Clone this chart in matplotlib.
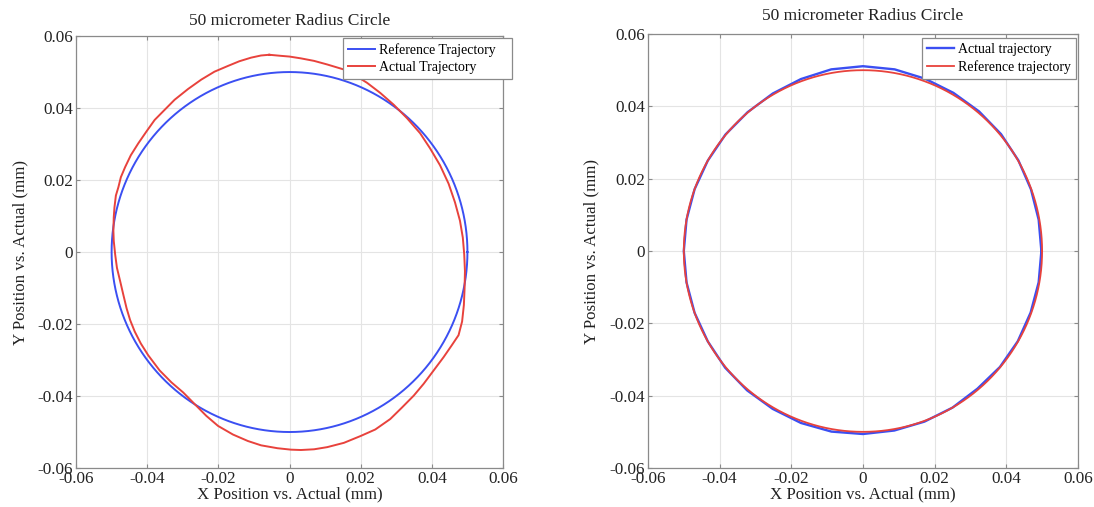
import numpy as np
import matplotlib
matplotlib.use("Agg")
import matplotlib.pyplot as plt

plt.rcParams["font.family"] = ["Liberation Serif", "DejaVu Serif"]
plt.rcParams["axes.unicode_minus"] = False

# ---- data -------------------------------------------------------------
TITLE = "50 micrometer Radius Circle"
XLABEL = "X Position vs. Actual (mm)"
YLABEL = "Y Position vs. Actual (mm)"
TICKS = [-0.06, -0.04, -0.02, 0, 0.02, 0.04, 0.06]
TICK_LABELS = ["-0.06", "-0.04", "-0.02", "0", "0.02", "0.04", "0.06"]

# commanded path: circle of 50 micrometer radius
ref_radius = 0.05

# first run: measured path (mm), clockwise from the top
actual1_x = [-0.0057, -0.0024, 0.0000, 0.0032, 0.0069, 0.0106, 0.0153, 0.0181,
             0.0218, 0.0255, 0.0293, 0.0330, 0.0367, 0.0395, 0.0423, 0.0447,
             0.0465, 0.0479, 0.0487, 0.0491, 0.0493, 0.0492, 0.0490, 0.0485,
             0.0475, 0.0456, 0.0433, 0.0405, 0.0377, 0.0349, 0.0316, 0.0283,
             0.0241, 0.0200, 0.0153, 0.0106, 0.0069, 0.0032, 0.0004, -0.0034,
             -0.0080, -0.0117, -0.0159, -0.0201, -0.0234, -0.0267, -0.0299,
             -0.0332, -0.0365, -0.0397, -0.0418, -0.0435, -0.0448, -0.0458,
             -0.0467, -0.0476, -0.0485, -0.0490, -0.0494, -0.0495, -0.0494,
             -0.0492, -0.0488, -0.0481, -0.0474, -0.0462, -0.0446, -0.0425,
             -0.0402, -0.0379, -0.0351, -0.0323, -0.0285, -0.0248, -0.0211,
             -0.0173, -0.0141, -0.0108, -0.0080, -0.0057]
actual1_y = [0.0548, 0.0545, 0.0543, 0.0538, 0.0531, 0.0521, 0.0507, 0.0493,
             0.0470, 0.0442, 0.0409, 0.0372, 0.0330, 0.0288, 0.0241, 0.0190,
             0.0138, 0.0087, 0.0040, -0.0007, -0.0053, -0.0100, -0.0147,
             -0.0193, -0.0231, -0.0259, -0.0292, -0.0329, -0.0366, -0.0399,
             -0.0432, -0.0464, -0.0493, -0.0511, -0.0530, -0.0542, -0.0548,
             -0.0550, -0.0549, -0.0545, -0.0537, -0.0525, -0.0507, -0.0483,
             -0.0455, -0.0422, -0.0390, -0.0362, -0.0329, -0.0287, -0.0254,
             -0.0221, -0.0189, -0.0156, -0.0119, -0.0081, -0.0044, -0.0007,
             0.0031, 0.0059, 0.0096, 0.0124, 0.0157, 0.0180, 0.0208, 0.0236,
             0.0269, 0.0302, 0.0335, 0.0367, 0.0395, 0.0423, 0.0453, 0.0479,
             0.0501, 0.0517, 0.0530, 0.0540, 0.0546, 0.0548]

# second run: measured path as radius (mm) at polar angle (deg)
actual2_angle = [0, 10, 20, 30, 40, 50, 60, 70, 80, 90, 100, 110, 120, 130,
                 140, 150, 160, 170, 180, 190, 200, 210, 220, 230, 240, 250,
                 260, 270, 280, 290, 300, 310, 320, 330, 340, 350, 360]
actual2_radius = [0.0498, 0.0498, 0.0499, 0.0501, 0.0503, 0.0504, 0.0505,
                  0.0507, 0.0510, 0.0511, 0.0510, 0.0506, 0.0503, 0.0501,
                  0.0501, 0.0500, 0.0500, 0.0500, 0.0500, 0.0500, 0.0500,
                  0.0500, 0.0502, 0.0503, 0.0504, 0.0506, 0.0507, 0.0506,
                  0.0504, 0.0502, 0.0500, 0.0497, 0.0499, 0.0499, 0.0498,
                  0.0498, 0.0498]

BLUE = "#3b4ff2"
RED = "#e8423c"
GRID = "#e4e4e4"
SPINE = "#8a8a8a"
TEXT = "#222222"

# ---- figure -----------------------------------------------------------
fig = plt.figure(figsize=(10.94, 5.07), dpi=100)
ax1 = fig.add_axes([0.0695, 0.0769, 0.3903, 0.852])
ax2 = fig.add_axes([0.5923, 0.0769, 0.3930, 0.856])

theta = np.linspace(0, 2 * np.pi, 721)
ref_x = ref_radius * np.cos(theta)
ref_y = ref_radius * np.sin(theta)

ang = np.deg2rad(actual2_angle)
actual2_x = np.array(actual2_radius) * np.cos(ang)
actual2_y = np.array(actual2_radius) * np.sin(ang)

ax1.plot(ref_x, ref_y, color=BLUE, lw=1.4, label="Reference Trajectory")
ax1.plot(actual1_x, actual1_y, color=RED, lw=1.4, label="Actual Trajectory",
         solid_joinstyle="round")

ax2.plot(actual2_x, actual2_y, color=BLUE, lw=1.7, label="Actual trajectory",
         solid_joinstyle="round")
ax2.plot(ref_x, ref_y, color=RED, lw=1.3, label="Reference trajectory")


def style(ax, title_pad):
    ax.set_xlim(-0.06, 0.06)
    ax.set_ylim(-0.06, 0.06)
    ax.set_xticks(TICKS)
    ax.set_yticks(TICKS)
    ax.set_xticklabels(TICK_LABELS)
    ax.set_yticklabels(TICK_LABELS)
    ax.grid(True, color=GRID, lw=0.8)
    ax.set_axisbelow(True)
    ax.tick_params(direction="in", length=3, width=0.8, color=SPINE,
                   top=True, right=True, labelsize=12.3, pad=2,
                   labelcolor=TEXT)
    for s in ax.spines.values():
        s.set_color(SPINE)
        s.set_linewidth(0.9)
    ax.set_title(TITLE, fontsize=12.5, pad=title_pad, color=TEXT)
    ax.set_xlabel(XLABEL, fontsize=12.2, labelpad=0, color=TEXT)
    ax.set_ylabel(YLABEL, fontsize=12.2, labelpad=7, color=TEXT)


style(ax1, 8)
style(ax2, 10)


def add_legend(ax, x0, x1, top):
    leg = ax.legend(loc="upper left",
                    bbox_to_anchor=(x0 / 1094, 1 - top / 507,
                                    (x1 - x0) / 1094, 0),
                    bbox_transform=fig.transFigure, mode="expand",
                    fontsize=10, borderaxespad=0, fancybox=False,
                    framealpha=1, edgecolor=SPINE, handlelength=1.95,
                    handletextpad=0.3, labelspacing=0.3, borderpad=0.35)
    leg.get_frame().set_linewidth(0.9)
    return leg


add_legend(ax1, 343, 512, 38)
add_legend(ax2, 922, 1076, 38)

fig.savefig("out.png", dpi=100, facecolor="white")
